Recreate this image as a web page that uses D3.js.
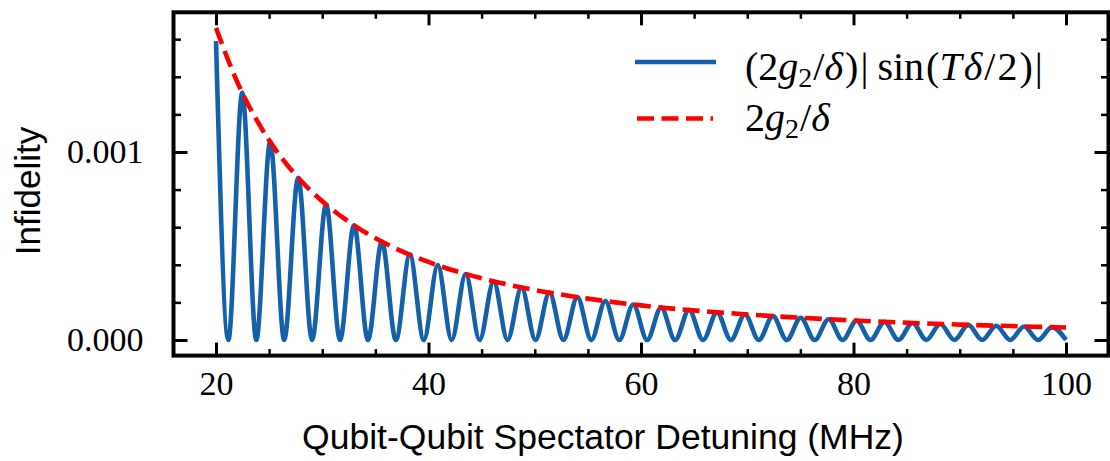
<!DOCTYPE html>
<html>
<head>
<meta charset="utf-8">
<script src="https://cdn.jsdelivr.net/npm/d3@7/dist/d3.min.js"></script>
<style>
  html, body { margin: 0; padding: 0; background: #fff; }
  svg { display: block; }
</style>
</head>
<body>
<svg id="chart" width="1110" height="461"></svg>
<script>
// blue curve: zeros and peaks (MHz, infidelity)
const blueDetuning = [20, 21.16, 22.47, 23.79, 25.10, 26.42, 27.73, 29.04, 30.36, 31.67, 32.99, 34.30,
  35.61, 36.93, 38.24, 39.56, 40.87, 42.18, 43.50, 44.81, 46.13, 47.44, 48.75, 50.07, 51.38, 52.70,
  54.01, 55.32, 56.64, 57.95, 59.27, 60.58, 61.89, 63.21, 64.52, 65.84, 67.15, 68.46, 69.78, 71.09,
  72.41, 73.72, 75.03, 76.35, 77.66, 78.98, 80.29, 81.60, 82.92, 84.23, 85.55, 86.86, 88.17, 89.49,
  90.80, 92.12, 93.43, 94.74, 96.06, 97.37, 98.69, 100.0];
const blueInfid = [0.00159, 0, 0.001315, 0, 0.001054, 0, 0.000863, 0, 0.000720, 0, 0.000610, 0,
  0.000524, 0, 0.000454, 0, 0.000398, 0, 0.000351, 0, 0.000312, 0, 0.000279, 0, 0.000252, 0,
  0.000228, 0, 0.000207, 0, 0.000189, 0, 0.000173, 0, 0.000160, 0, 0.000147, 0, 0.000136, 0,
  0.000127, 0, 0.000118, 0, 0.000110, 0, 0.000103, 0, 0.0000966, 0, 0.0000907, 0, 0.0000854, 0,
  0.0000805, 0, 0.0000761, 0, 0.0000720, 0, 0.0000682, 0];

// red dashed envelope
const redDetuning = [20, 22, 24, 26, 28, 30, 33, 36, 40, 45, 50, 55, 60, 70, 80, 90, 100];
const redInfid = [0.001660, 0.001372, 0.001153, 0.000982, 0.000847, 0.000738, 0.000610, 0.000512,
  0.000415, 0.000328, 0.000266, 0.000220, 0.000184, 0.000136, 0.000104, 0.0000820, 0.0000664];

const xMajor = [20, 40, 60, 80, 100];
const xMinor = [25, 30, 35, 45, 50, 55, 65, 70, 75, 85, 90, 95];
const yMajor = [0, 0.001];
const yMinor = [0.0002, 0.0004, 0.0006, 0.0008, 0.0012, 0.0014, 0.0016];

const svg = d3.select("#chart");
const L = 173.5, R = 1108.5, T = 12.3, B = 355.6;
const x = d3.scaleLinear().domain([16, 104]).range([L, R]);
const y = d3.scaleLinear().domain([-0.000083, 0.001743]).range([B, T]);

const serif = "'Liberation Serif', 'Times New Roman', serif";
const sans = "'Liberation Sans', Arial, sans-serif";
const BLUE = "#1461a9", RED = "#ff0000";

// curves
const blue = blueDetuning.map((d, i) => [d, blueInfid[i]]);
const red = redDetuning.map((d, i) => [d, redInfid[i]]);
const line = d3.line().x(d => x(d[0])).y(d => y(d[1])).curve(d3.curveMonotoneX);

svg.append("path").attr("d", line(blue))
  .attr("fill", "none").attr("stroke", BLUE).attr("stroke-width", 4.6)
  .attr("stroke-linejoin", "round");
svg.append("path").attr("d", line(red))
  .attr("fill", "none").attr("stroke", RED).attr("stroke-width", 4.6)
  .attr("stroke-dasharray", "17,7.5");

// ticks, inward on all four sides
function styleAxis(g, w) {
  g.select(".domain").remove();
  g.selectAll("line").attr("stroke", "#000").attr("stroke-width", w);
}
svg.append("g").attr("transform", `translate(0,${B})`)
  .call(d3.axisBottom(x).tickValues(xMajor).tickSize(-13).tickPadding(15))
  .call(g => styleAxis(g, 3))
  .call(g => g.selectAll("text").attr("font-family", serif).attr("font-size", 34).attr("fill", "#000"));
svg.append("g").attr("transform", `translate(0,${B})`)
  .call(d3.axisBottom(x).tickValues(xMinor).tickSize(-6.5).tickFormat(""))
  .call(g => styleAxis(g, 2.5));
svg.append("g").attr("transform", `translate(0,${T})`)
  .call(d3.axisTop(x).tickValues(xMajor).tickSize(-13).tickFormat(""))
  .call(g => styleAxis(g, 3));
svg.append("g").attr("transform", `translate(0,${T})`)
  .call(d3.axisTop(x).tickValues(xMinor).tickSize(-6.5).tickFormat(""))
  .call(g => styleAxis(g, 2.5));

svg.append("g").attr("transform", `translate(${L},0)`)
  .call(d3.axisLeft(y).tickValues(yMajor).tickSize(-14).tickPadding(30).tickFormat(d3.format(".3f")))
  .call(g => styleAxis(g, 3))
  .call(g => g.selectAll("text").attr("font-family", serif).attr("font-size", 34).attr("fill", "#000"));
svg.append("g").attr("transform", `translate(${L},0)`)
  .call(d3.axisLeft(y).tickValues(yMinor).tickSize(-7.5).tickFormat(""))
  .call(g => styleAxis(g, 2.5));
svg.append("g").attr("transform", `translate(${R},0)`)
  .call(d3.axisRight(y).tickValues(yMajor).tickSize(-14).tickFormat(""))
  .call(g => styleAxis(g, 3));
svg.append("g").attr("transform", `translate(${R},0)`)
  .call(d3.axisRight(y).tickValues(yMinor).tickSize(-7.5).tickFormat(""))
  .call(g => styleAxis(g, 2.5));

// frame
svg.append("rect").attr("x", L).attr("y", T).attr("width", R - L).attr("height", B - T)
  .attr("fill", "none").attr("stroke", "#000").attr("stroke-width", 4);

// axis labels
svg.append("text").attr("x", 603).attr("y", 449)
  .attr("text-anchor", "middle").attr("font-family", sans).attr("font-size", 35.5)
  .text("Qubit-Qubit Spectator Detuning (MHz)");
svg.append("text").attr("transform", `translate(39.5,191) rotate(-90)`)
  .attr("text-anchor", "middle").attr("font-family", sans).attr("font-size", 35)
  .text("Infidelity");

// legend
const leg = svg.append("g");
leg.append("line").attr("x1", 635).attr("x2", 716).attr("y1", 62).attr("y2", 62)
  .attr("stroke", BLUE).attr("stroke-width", 4.6);
leg.append("line").attr("x1", 637).attr("x2", 713).attr("y1", 118.5).attr("y2", 118.5)
  .attr("stroke", RED).attr("stroke-width", 4.6).attr("stroke-dasharray", "17,7.5");

function mathText(yb, parts) {
  const t = leg.append("text").attr("x", 745).attr("y", yb)
    .attr("font-family", serif).attr("font-size", 40);
  parts.forEach(p => {
    const s = t.append("tspan").text(p.t);
    if (p.i) s.attr("font-style", "italic");
    if (p.sub) s.attr("font-size", 28).attr("dy", 7);
    if (p.up) s.attr("dy", -7);
    if (p.dx) s.attr("dx", p.dx);
  });
}
mathText(80, [
  { t: "(2" }, { t: "g", i: true }, { t: "2", sub: true }, { t: "/", up: true, dx: 1 }, { t: "δ", i: true },
  { t: ")", dx: 2 }, { t: "|", dx: 2 }, { t: "sin", dx: 9 }, { t: "(", dx: 2 }, { t: "T", i: true },
  { t: "δ", i: true, dx: 2 }, { t: "/", dx: 2 }, { t: "2", dx: 2 }, { t: ")", dx: 2 }, { t: "|", dx: 2 }
]);
mathText(131, [
  { t: "2" }, { t: "g", i: true }, { t: "2", sub: true }, { t: "/", up: true, dx: 1 }, { t: "δ", i: true }
]);
</script>
</body>
</html>
